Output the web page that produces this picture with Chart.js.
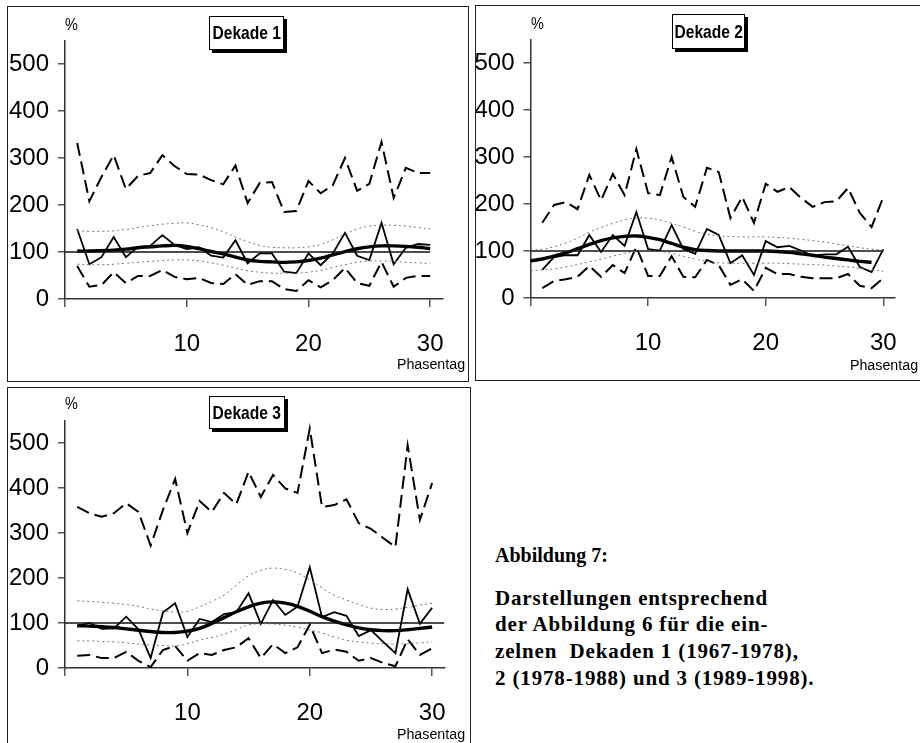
<!DOCTYPE html>
<html>
<head>
<meta charset="utf-8">
<script src="https://cdn.jsdelivr.net/npm/chart.js@4/dist/chart.umd.min.js"></script>
<style>
  html, body { margin: 0; padding: 0; background: #fff; }
  body { width: 920px; height: 743px; position: relative; overflow: hidden; }
  .panel { position: absolute; border: 1.5px solid #222; box-sizing: border-box; }
  canvas { position: absolute; }
  .lbl { position: absolute; font-family: 'Liberation Sans', Arial, sans-serif; color: #000; line-height: 1; white-space: nowrap; }
  .pct { font-size: 17px; transform: scaleX(0.85); transform-origin: left center; }
  .phase { font-size: 15.5px; transform: scaleX(0.92); transform-origin: right center; }
  .tbox { position: absolute; border: 1px solid #000; background: #fff; box-shadow: 3px 3px 0 #000;
          font-family: 'Liberation Sans', Arial, sans-serif; font-weight: bold; font-size: 19px;
          display: flex; align-items: center; justify-content: center; box-sizing: border-box; white-space: nowrap; overflow: visible; }
  .tbox span { display: inline-block; transform: scaleX(0.82); transform-origin: center center; }
  .caption { position: absolute; left: 495px; top: 542px; font-family: 'Liberation Serif', 'Times New Roman', serif;
             font-weight: bold; font-size: 20px; line-height: 26.7px; color: #000; white-space: nowrap; }
  .caption .sp { font-size: 21px; letter-spacing: 0.85px; }
</style>
</head>
<body>
<div class="panel" style="left:7px; top:6px; width:462px; height:376px;"></div>
<div class="panel" style="left:475px; top:5px; width:460px; height:376px;"></div>
<div class="panel" style="left:7px; top:387px; width:464px; height:380px;"></div>

<canvas id="c1" width="459" height="373" style="left:8px; top:7px;"></canvas>
<canvas id="c2" width="444" height="373" style="left:476px; top:6px;"></canvas>
<canvas id="c3" width="461" height="355" style="left:8px; top:388px;"></canvas>

<div class="lbl pct" style="left:65px; top:16px;">%</div>
<div class="lbl pct" style="left:531px; top:15px;">%</div>
<div class="lbl pct" style="left:65px; top:395px;">%</div>

<div class="lbl phase" style="right:455px; top:356px;">Phasentag</div>
<div class="lbl phase" style="right:2px; top:357px;">Phasentag</div>
<div class="lbl phase" style="right:455px; top:726px;">Phasentag</div>

<div class="tbox" style="left:209px; top:16px; width:75px; height:34px;"><span>Dekade 1</span></div>
<div class="tbox" style="left:672px; top:14px; width:73px; height:35px;"><span>Dekade 2</span></div>
<div class="tbox" style="left:209px; top:396px; width:76px; height:33px;"><span>Dekade 3</span></div>

<div class="caption">
  <div>Abbildung 7:</div>
  <div style="height:16px"></div>
  <div class="sp">Darstellungen entsprechend</div>
  <div class="sp">der Abbildung 6 für die ein-</div>
  <div class="sp">zelnen&nbsp; Dekaden 1 (1967-1978),</div>
  <div class="sp">2 (1978-1988) und 3 (1989-1998).</div>
</div>

<script>
// ---------- Data ----------
const days = [1,2,3,4,5,6,7,8,9,10,11,12,13,14,15,16,17,18,19,20,21,22,23,24,25,26,27,28,29,30];
const days0 = [0,1,2,3,4,5,6,7,8,9,10,11,12,13,14,15,16,17,18,19,20,21,22,23,24,25,26,27,28,29,30];
const days0to29 = [0,1,2,3,4,5,6,7,8,9,10,11,12,13,14,15,16,17,18,19,20,21,22,23,24,25,26,27,28,29];

const xTickValues = [0, 10, 20, 30];
const xTickLabels = ['', '10', '20', '30'];
const yTickValues = [0, 100, 200, 300, 400, 500];
const yTickLabels = ['0', '100', '200', '300', '400', '500'];

const refDays = [0, 30];
const refDays3 = [0, 31];
const refValues = [100, 100];

// Dekade 1
const d1Max  = [332,208,260,306,234,262,268,306,283,266,265,253,244,284,204,247,249,185,187,251,225,242,300,230,245,334,215,279,268,268];
const d1Min  = [70,26,30,57,34,49,49,62,47,42,45,34,32,53,30,38,38,21,17,40,25,40,66,34,28,79,26,45,49,49];
const d1Mean = [149,74,89,132,89,111,113,136,115,106,110,92,88,125,76,97,97,58,55,97,72,97,141,92,83,162,74,109,117,115];
const d1Fit  = [102,102,103,104,106,109,111,113,114,112,107,101,96,89,83,80,79,78,79,82,87,94,101,107,111,113,113,112,110,107];
const d1Upper= [145,144,144,145,148,152,156,159,161,162,158,152,143,132,122,114,110,109,109,111,116,126,138,149,155,157,157,155,152,149];
const d1Lower= [74,73,73,74,76,78,80,82,83,83,81,77,72,66,60,57,55,55,55,57,61,67,73,78,81,81,80,78,77,76];

// Dekade 2
const d2Max  = [160,198,204,189,262,208,264,219,317,223,219,300,215,194,277,268,170,215,160,243,226,236,213,194,204,206,234,181,151,215];
const d2Min  = [21,36,40,45,68,45,70,53,109,47,47,89,45,44,81,70,28,40,15,64,51,51,45,42,42,42,51,26,21,42];
const d2Mean = [60,87,91,91,134,98,134,111,183,104,101,155,104,94,147,134,74,91,49,121,108,111,101,90,93,93,109,66,55,104];
const d2Fit  = [79,83,89,96,105,114,122,128,131,132,129,124,116,108,103,101,100,100,100,100,100,99,97,94,91,87,84,81,78,76];
const d2Upper= [102,104,109,117,127,140,150,159,166,170,170,166,159,151,142,136,132,131,130,130,130,129,127,125,122,119,115,111,107,104,102];
const d2Lower= [58,60,62,66,71,77,83,89,95,99,100,99,95,89,83,78,75,74,74,74,74,74,73,72,71,70,68,66,63,60,57];

// Dekade 3
const d3Max  = [358,344,336,344,366,347,272,351,420,300,371,347,389,364,436,380,429,399,389,532,358,362,375,322,309,289,269,495,329,411];
const d3Min  = [27,29,22,22,36,16,2,40,49,16,33,29,40,46,66,22,53,33,46,96,33,41,36,16,22,11,4,64,29,44];
const d3Mean = [93,100,87,88,114,86,22,123,144,69,109,102,120,124,166,98,151,118,136,224,113,124,116,71,84,58,33,175,98,134];
const d3Fit  = [94,93,92,90,87,84,81,79,79,82,88,99,112,125,136,144,147,144,137,126,114,104,96,89,85,83,83,85,88,91];
const d3Upper= [149,148,146,144,141,137,131,127,124,126,136,148,162,184,205,217,222,219,211,196,178,162,151,141,133,130,131,135,140,144];
const d3Lower= [60,60,59,58,56,53,51,50,49,54,62,68,75,85,96,98,98,95,91,85,78,69,62,58,55,54,53,54,56,58];

// ---------- Helpers ----------
const pts = (xs, ys) => ys.map((y, i) => ({ x: xs[i], y: y }));
const FONT = "'Liberation Sans', Arial, sans-serif";

function makeDatasets(p) {
  return [
    { data: pts(p.bandDays, p.upper), borderColor: '#777', borderWidth: 1, borderDash: [2, 3], tension: 0.4 },
    { data: pts(p.bandDays, p.lower), borderColor: '#777', borderWidth: 1, borderDash: [2, 3], tension: 0.4 },
    { data: pts(p.refDays, refValues), borderColor: '#111', borderWidth: 1.3 },
    { data: pts(days, p.max), borderColor: '#000', borderWidth: 2, borderDash: [13, 6] },
    { data: pts(days, p.min), borderColor: '#000', borderWidth: 2, borderDash: [13, 6] },
    { data: pts(days, p.mean), borderColor: '#000', borderWidth: 1.8 },
    { data: pts(p.fitDays, p.fit), borderColor: '#000', borderWidth: 3.4, tension: 0.4 }
  ];
}

function makeChart(id, p) {
  new Chart(document.getElementById(id), {
    type: 'line',
    data: { datasets: makeDatasets(p) },
    options: {
      responsive: false,
      animation: false,
      devicePixelRatio: 1,
      layout: { padding: { top: p.padTop, right: p.padRight, left: 0, bottom: 0 } },
      plugins: { legend: { display: false }, tooltip: { enabled: false } },
      elements: { point: { radius: 0 }, line: { fill: false, borderCapStyle: 'butt' } },
      scales: {
        x: {
          type: 'linear', min: 0, max: 31,
          afterBuildTicks: s => { s.ticks = xTickValues.map(v => ({ value: v })); },
          afterFit: s => { s.height = p.xH; },
          ticks: {
            autoSkip: false, maxRotation: 0, color: '#000', padding: p.xPad,
            font: { family: FONT, size: 24 },
            callback: v => xTickLabels[xTickValues.indexOf(v)]
          },
          grid: { drawOnChartArea: false, drawTicks: true, tickLength: 8, color: '#555', lineWidth: 1.5 },
          border: { display: true, color: '#333', width: 1.5 }
        },
        y: {
          type: 'linear', min: 0, max: 550,
          afterBuildTicks: s => { s.ticks = yTickValues.map(v => ({ value: v })); },
          afterFit: s => { s.width = p.yW; },
          ticks: {
            autoSkip: false, color: '#000', padding: 9,
            font: { family: FONT, size: 24 },
            callback: v => yTickLabels[yTickValues.indexOf(v)]
          },
          grid: { drawOnChartArea: false, drawTicks: true, tickLength: 7, color: '#555', lineWidth: 1.5 },
          border: { display: true, color: '#333', width: 1.5 }
        }
      }
    }
  });
}

makeChart('c1', { max: d1Max, min: d1Min, mean: d1Mean, fit: d1Fit, fitDays: days, upper: d1Upper, lower: d1Lower,
  bandDays: days, refDays: refDays, padTop: 33.5, padRight: 14, xH: 81, yW: 57, xPad: 23 });
makeChart('c2', { max: d2Max, min: d2Min, mean: d2Mean, fit: d2Fit, fitDays: days0to29, upper: d2Upper, lower: d2Lower,
  bandDays: days0, refDays: refDays, padTop: 33.5, padRight: 10, xH: 81, yW: 54.5, xPad: 23 });
makeChart('c3', { max: d3Max, min: d3Min, mean: d3Mean, fit: d3Fit, fitDays: days, upper: d3Upper, lower: d3Lower,
  bandDays: days, refDays: refDays3, padTop: 32.5, padRight: 16, xH: 75, yW: 57, xPad: 23 });
</script>
</body>
</html>
